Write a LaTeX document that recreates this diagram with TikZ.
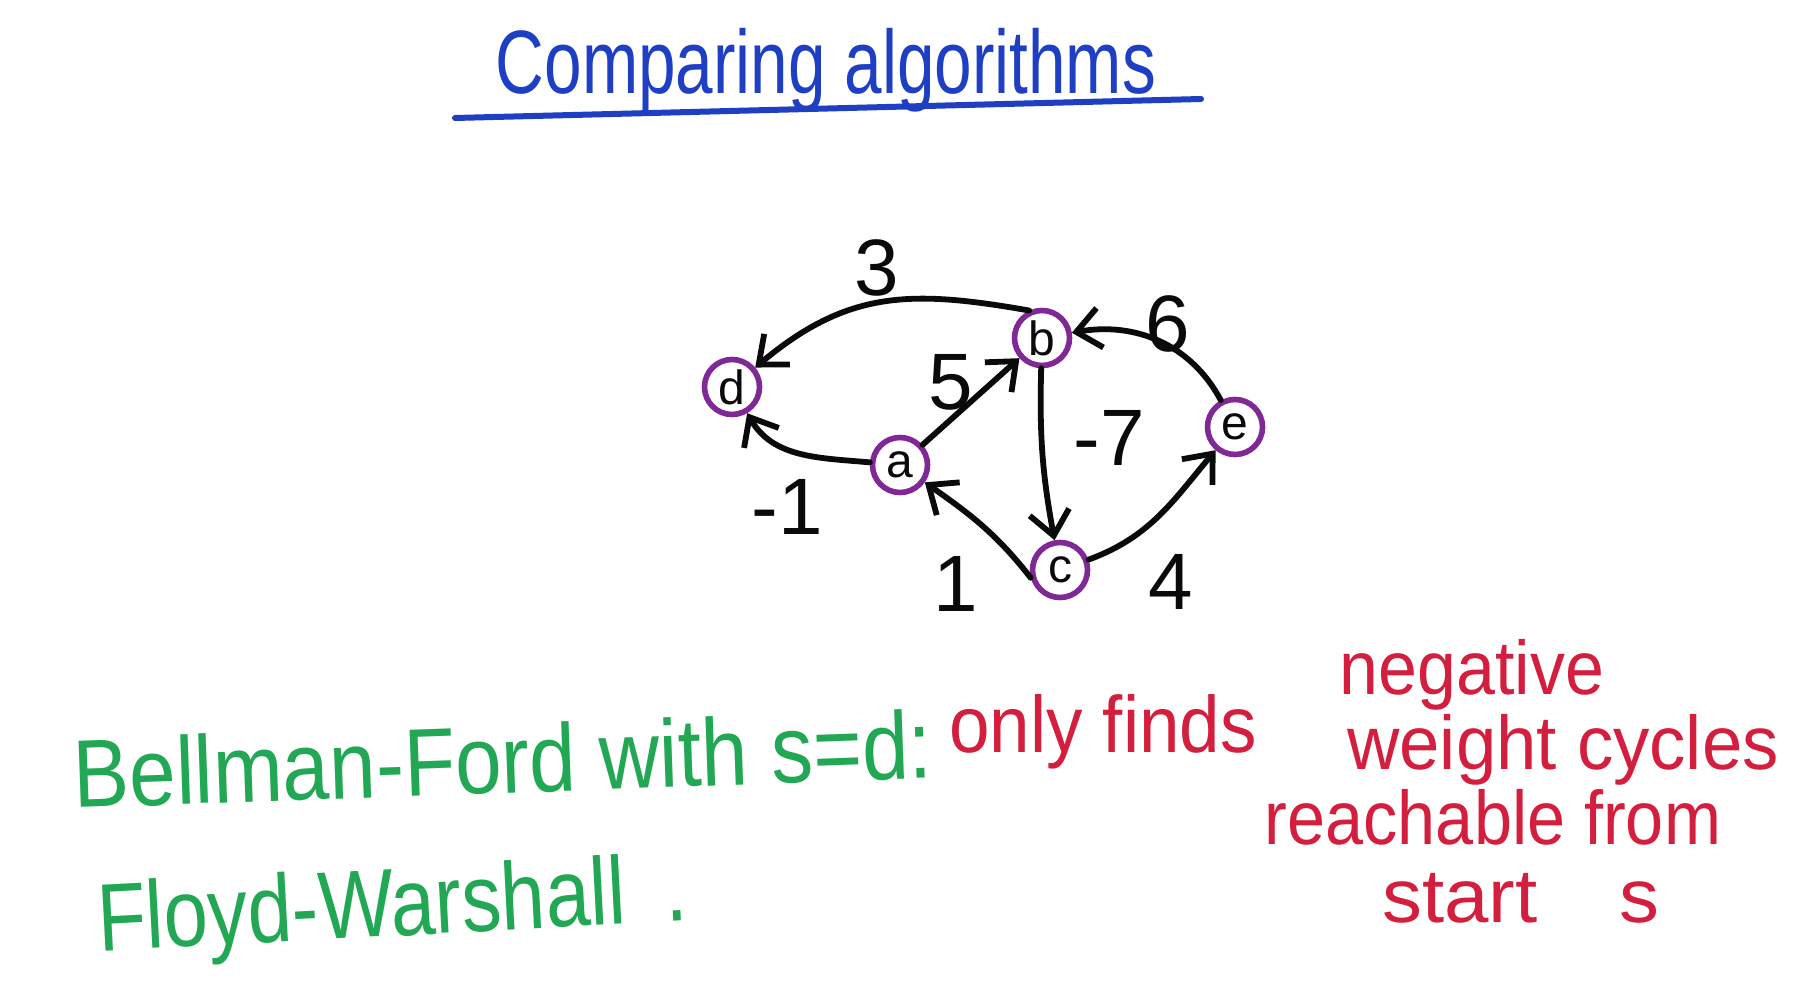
\documentclass[tikz,border=0pt]{standalone}
\usepackage{fontspec}
\setmainfont{Liberation Sans}
\usetikzlibrary{arrows.meta}
\definecolor{hwblue}{RGB}{30,62,196}
\definecolor{hwgreen}{RGB}{34,168,84}
\definecolor{hwred}{RGB}{212,30,62}
\definecolor{vpurple}{RGB}{128,40,150}
\definecolor{ink}{RGB}{10,10,10}
\newcommand{\hsq}[2]{\scalebox{#1}[1]{#2}}
\begin{document}
\begin{tikzpicture}[x=0.5pt,y=0.5pt,
  vertex/.style={circle, draw=vpurple, line width=2.8pt, minimum size=27.5pt,
    inner sep=0pt, fill=white, text=ink, font=\fontsize{24}{24}\selectfont},
  edge/.style={draw=ink, line width=2.9pt, line cap=round, line join=round,
    -{Straight Barb[length=12pt,width=20pt]}},
  wlabel/.style={text=ink, inner sep=0pt, font=\fontsize{40}{40}\selectfont},
  titletext/.style={text=hwblue, inner sep=0pt, anchor=base, font=\fontsize{45}{45}\selectfont},
  greentext/.style={text=hwgreen, inner sep=0pt, anchor=base, font=\fontsize{48}{48}\selectfont},
  redtext/.style={text=hwred, inner sep=0pt, anchor=base, font=\fontsize{38}{38}\selectfont},
]
\useasboundingbox (0,0) rectangle (1797,986);
\fill[white] (0,0) rectangle (1797,986);

% title
\node[titletext] (title) at (826,892) {\hsq{0.75}{Comparing algorithms}};
\coordinate (ulA) at (455,868);
\coordinate (ulB) at (1201,887);
\draw[hwblue, line width=3pt, line cap=round] (ulA) -- (ulB);

% graph vertices
\node[vertex] (d) at (732,599) {d};
\node[vertex] (b) at (1042,648) {b};
\node[vertex] (e) at (1235,559) {e};
\node[vertex] (a) at (900,521) {a};
\node[vertex] (c) at (1060,416) {c};

% edges
\draw[edge] (b.115) to[out=170, in=40, looseness=1.1] (d);
\draw[edge] (a) to[out=175, in=-60] (d);
\draw[edge] (a) -- (b);
\draw[edge] (b) to[bend right=6] (c);
\draw[edge] (c.195) to[out=128, in=-35] (a);
\draw[edge] (c) to[out=20, in=-130] (e);
\draw[edge] (e) to[out=118, in=10] (b);

% edge weights
\node[wlabel] (w3) at (877,718) {3};
\node[wlabel] (w5) at (951,604) {5};
\node[wlabel] (w6) at (1168,662) {6};
\node[wlabel] (w7) at (1109,548) {-7};
\node[wlabel] (w1n) at (787,479) {-1};
\node[wlabel] (w1) at (956,402) {1};
\node[wlabel] (w4) at (1171,404) {4};

% bottom text
\node[greentext, rotate=2] (bf) at (504,193) {\hsq{0.873}{Bellman-Ford with s=d:}};
\node[redtext, font=\fontsize{40}{40}\selectfont] (only) at (1103,234) {\hsq{0.91}{only finds}};
\node[redtext] (neg) at (1472,292) {\hsq{0.92}{negative}};
\node[redtext] (wc) at (1563,217) {\hsq{0.955}{weight cycles}};
\node[redtext] (reach) at (1493,142) {\hsq{0.9}{reachable from}};
\node[redtext] (start) at (1521,64) {\hsq{1.05}{start\hspace{0.75em} s}};
\node[greentext, rotate=3] (fw) at (394,50) {\hsq{0.83}{Floyd-Warshall\hspace{0.5em}.}};
\end{tikzpicture}
\end{document}
